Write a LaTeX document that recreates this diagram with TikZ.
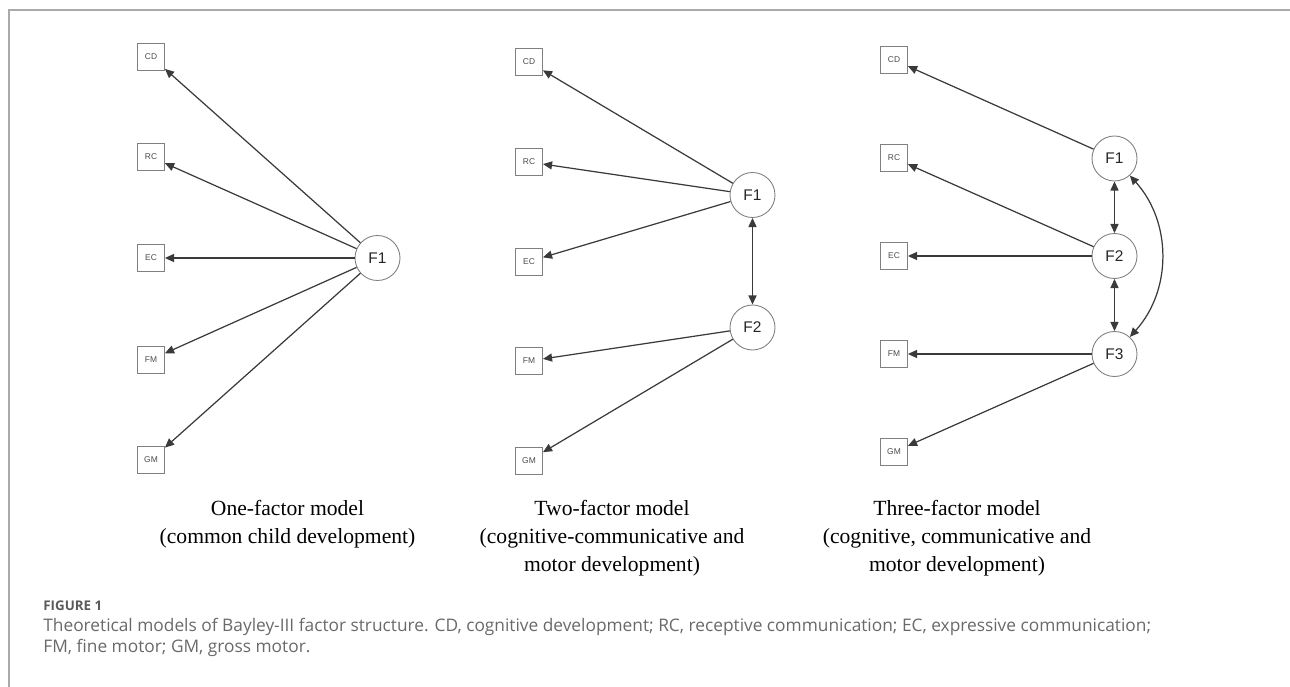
\documentclass[tikz,border=0pt]{standalone}
\usepackage{fontspec}
\setmainfont{Liberation Serif}
\setsansfont{Liberation Sans}
\newfontfamily\capfont{Open Sans}
\usepackage{tikz}
\usetikzlibrary{arrows.meta, positioning}
\definecolor{boxgray}{RGB}{128, 128, 128}
\definecolor{arrowgray}{RGB}{58, 58, 58}
\definecolor{capgray}{RGB}{105, 105, 105}
\definecolor{headgray}{RGB}{90, 90, 90}
\definecolor{rulegray}{RGB}{170, 170, 170}
\tikzset{
  indic/.style={draw=boxgray, line width=0.5pt, minimum size=0.54cm, inner sep=0pt, text=black!70, font=\sffamily\fontsize{4.8}{5}\selectfont},
  factor/.style={draw=boxgray, circle, line width=0.5pt, minimum size=0.9cm, inner sep=0pt, text=black!85, font=\sffamily\fontsize{8.8}{9}\selectfont},
  load/.style={-{Triangle[length=5.2pt, width=4.6pt]}, draw=arrowgray, line width=0.7pt},
  covar/.style={{Triangle[length=5.2pt, width=4.6pt]}-{Triangle[length=5.2pt, width=4.6pt]}, draw=arrowgray, line width=0.7pt},
  modelcap/.style={align=center, anchor=north, inner sep=0pt, font=\fontsize{12.3}{16}\selectfont}
}

\begin{document}
\begin{tikzpicture}
  \useasboundingbox (0, 0) rectangle (25.8, -13.74);
  \draw[rulegray, line width=0.6pt] (0.18, -13.74) -- (0.18, -0.2) -- (25.8, -0.2);

  % one-factor model
  \node[indic] (cd1) at (3.02, -1.13) {CD};
  \node[indic] (rc1) at (3.02, -3.14) {RC};
  \node[indic] (ec1) at (3.02, -5.16) {EC};
  \node[indic] (fm1) at (3.02, -7.19) {FM};
  \node[indic] (gm1) at (3.02, -9.20) {GM};
  \node[factor] (f1a) at (7.55, -5.16) {F1};
  \draw[load] (f1a) -- (cd1);
  \draw[load] (f1a) -- (rc1);
  \draw[load] (f1a) -- (ec1);
  \draw[load] (f1a) -- (fm1);
  \draw[load] (f1a) -- (gm1);
  \node[modelcap] (cap1) at (5.75, -10.0) {One-factor model\\(common child development)};

  % two-factor model
  \node[indic] (cd2) at (10.58, -1.24) {CD};
  \node[indic] (rc2) at (10.58, -3.24) {RC};
  \node[indic] (ec2) at (10.58, -5.23) {EC};
  \node[indic] (fm2) at (10.58, -7.22) {FM};
  \node[indic] (gm2) at (10.58, -9.21) {GM};
  \node[factor] (f1b) at (15.05, -3.90) {F1};
  \node[factor] (f2b) at (15.05, -6.55) {F2};
  \draw[load] (f1b) -- (cd2);
  \draw[load] (f1b) -- (rc2);
  \draw[load] (f1b) -- (ec2);
  \draw[load] (f2b) -- (fm2);
  \draw[load] (f2b) -- (gm2);
  \draw[covar] (f1b) -- (f2b);
  \node[modelcap] (cap2) at (12.24, -10.0) {Two-factor model\\(cognitive-communicative and\\motor development)};

  % three-factor model
  \node[indic] (cd3) at (17.88, -1.20) {CD};
  \node[indic] (rc3) at (17.88, -3.16) {RC};
  \node[indic] (ec3) at (17.88, -5.12) {EC};
  \node[indic] (fm3) at (17.88, -7.08) {FM};
  \node[indic] (gm3) at (17.88, -9.04) {GM};
  \node[factor] (f1c) at (22.29, -3.17) {F1};
  \node[factor] (f2c) at (22.29, -5.12) {F2};
  \node[factor] (f3c) at (22.29, -7.08) {F3};
  \draw[load] (f1c) -- (cd3);
  \draw[load] (f2c) -- (rc3);
  \draw[load] (f2c) -- (ec3);
  \draw[load] (f3c) -- (fm3);
  \draw[load] (f3c) -- (gm3);
  \draw[covar] (f1c) -- (f2c);
  \draw[covar] (f2c) -- (f3c);
  \draw[covar] (f1c) to[bend left=42] (f3c);
  \node[modelcap] (cap3) at (19.14, -10.0) {Three-factor model\\(cognitive, communicative and\\motor development)};

  % figure caption
  \node[anchor=base west, inner sep=0pt, text=headgray, font=\capfont\bfseries\fontsize{7.6}{8}\selectfont] (fighead) at (0.86, -12.2) {FIGURE 1};
  \node[anchor=base west, inner sep=0pt, align=left, text=capgray, font=\capfont\fontsize{9.85}{11.6}\selectfont] (figtext) at (0.86, -13.04) {Theoretical models of Bayley-III factor structure. CD, cognitive development; RC, receptive communication; EC, expressive communication;\\FM, fine motor; GM, gross motor.};
\end{tikzpicture}
\end{document}
